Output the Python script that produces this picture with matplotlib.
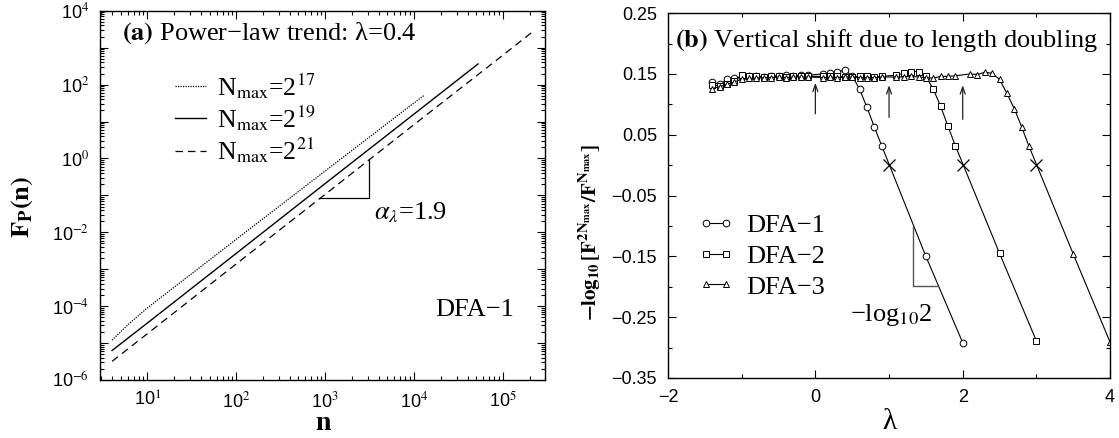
import numpy as np
import matplotlib
matplotlib.use('Agg')
import matplotlib.pyplot as plt
from matplotlib.ticker import FixedLocator, LogLocator, FuncFormatter, MultipleLocator, NullFormatter

plt.rcParams['mathtext.fontset'] = 'stix'
plt.rcParams['font.family'] = ['Liberation Serif', 'DejaVu Serif']

# ---- panel (a): F_P(n) for three series lengths ----
n_17 = [4, 6, 10, 100, 1000, 10000, 13107]
F_17 = [1.2e-5, 3.1e-5, 9.0e-5, 6.5e-3, 0.46, 32, 52]
n_19 = [4, 10, 100, 1000, 10000, 52429]
F_19 = [6.3e-6, 3.5e-5, 2.7e-3, 0.21, 16, 363]
n_21 = [4, 10, 100, 1000, 10000, 100000, 209715]
F_21 = [3.2e-6, 1.8e-5, 1.4e-3, 0.107, 8.3, 630, 2570]
tri_a_n = [850, 3100, 3100]
tri_a_F = [0.083, 0.083, 0.95]

# ---- panel (b): vertical shift vs lambda ----
lam1 = [-1.4, -1.3, -1.2, -1.1, -1.0, -0.9, -0.8, -0.7, -0.6, -0.5, -0.4, -0.3, -0.2, -0.1,
        0.1, 0.2, 0.3, 0.4, 0.5, 0.6, 0.7, 0.8, 0.9, 1.5, 2.0]
shift1 = [0.136, 0.133, 0.141, 0.143, 0.145, 0.146, 0.147, 0.145, 0.146, 0.147, 0.148, 0.147, 0.148, 0.148,
          0.150, 0.152, 0.154, 0.156, 0.147, 0.125, 0.095, 0.063, 0.032, -0.150, -0.292]
lam2 = [-1.4, -1.3, -1.2, -1.1, -1.0, -0.9, -0.8, -0.7, -0.6, -0.5, -0.4, -0.3, -0.2, -0.1,
        0.1, 0.2, 0.3, 0.4, 0.5, 0.6, 0.7, 0.8, 0.9,
        1.1, 1.2, 1.3, 1.4, 1.5, 1.6, 1.7, 1.8, 1.9, 2.5, 3.0]
shift2 = [0.132, 0.130, 0.134, 0.139, 0.148, 0.147, 0.146, 0.145, 0.147, 0.146, 0.145, 0.146, 0.146, 0.146,
          0.146, 0.146, 0.146, 0.145, 0.145, 0.146, 0.146, 0.145, 0.146,
          0.148, 0.151, 0.154, 0.154, 0.146, 0.125, 0.097, 0.064, 0.032, -0.145, -0.289]
lam3 = [-1.4, -1.3, -1.2, -1.1, -1.0, -0.9, -0.8, -0.7, -0.6, -0.5, -0.4, -0.3, -0.2, -0.1,
        0.1, 0.2, 0.3, 0.4, 0.5, 0.6, 0.7, 0.8, 0.9,
        1.1, 1.2, 1.3, 1.4, 1.5, 1.6, 1.7, 1.8, 1.9,
        2.1, 2.2, 2.3, 2.4, 2.5, 2.6, 2.7, 2.8, 2.9, 3.5, 4.0]
shift3 = [0.126, 0.129, 0.133, 0.137, 0.141, 0.143, 0.143, 0.144, 0.144, 0.145, 0.144, 0.145, 0.145, 0.145,
          0.144, 0.145, 0.144, 0.145, 0.145, 0.144, 0.144, 0.144, 0.145,
          0.145, 0.145, 0.146, 0.145, 0.144, 0.143, 0.146, 0.146, 0.147,
          0.150, 0.149, 0.153, 0.151, 0.141, 0.118, 0.093, 0.063, 0.031, -0.146, -0.291]
cross_lam = [1.0, 2.0, 3.0]
cross_shift = [0.0, 0.0, 0.0]
arrow_lam = [0.0, 1.0, 2.0]
arrow_from = [0.080, 0.074, 0.071]
arrow_to = [0.140, 0.136, 0.136]
tri_b_lam = [1.33, 1.33, 1.66]
tri_b_val = [-0.100, -0.199, -0.199]
yticks_b = [-0.35, -0.25, -0.15, -0.05, 0.05, 0.15, 0.25]

fig = plt.figure(figsize=(11.19, 4.38), dpi=100)
ax1 = fig.add_axes([0.0894, 0.1324, 0.398, 0.843])
ax2 = fig.add_axes([0.597, 0.137, 0.395, 0.833])

tickfont = 'Liberation Sans'
big = 19

# panel (a)
ax1.loglog(n_17, F_17, color='black', lw=0.9, ls=(0, (1, 1)), label=r'N$_{\rm max}$=2$^{17}$')
ax1.loglog(n_19, F_19, color='black', lw=1.0, ls='-', label=r'N$_{\rm max}$=2$^{19}$')
ax1.loglog(n_21, F_21, color='black', lw=0.9, ls=(0, (6, 4)), label=r'N$_{\rm max}$=2$^{21}$')
ax1.plot(tri_a_n, tri_a_F, color='black', lw=0.9)
ax1.set_xlim(2.93, 3.0e5)
ax1.set_ylim(1e-6, 1e4)
ax1.xaxis.set_major_locator(LogLocator(base=10, numticks=20))
ax1.xaxis.set_minor_locator(LogLocator(base=10, subs=np.arange(2, 10), numticks=20))
ax1.xaxis.set_minor_formatter(NullFormatter())
ax1.yaxis.set_major_locator(FixedLocator([10.0 ** k for k in range(-6, 5)]))
ax1.yaxis.set_minor_locator(LogLocator(base=10, subs=np.arange(2, 10), numticks=20))
ax1.yaxis.set_minor_formatter(NullFormatter())


def even_exp(v, pos):
    k = int(round(np.log10(v)))
    if k % 2:
        return ''
    return r'10$^{%d}$' % k


def all_exp(v, pos):
    k = int(round(np.log10(v)))
    return r'10$^{%d}$' % k


ax1.yaxis.set_major_formatter(FuncFormatter(even_exp))
ax1.xaxis.set_major_formatter(FuncFormatter(all_exp))
ax1.set_xlabel('n', fontsize=20, fontweight='bold', labelpad=0)
ax1.set_ylabel(r'$\mathbf{F_P(n)}$', fontsize=19)
ax1.yaxis.set_label_coords(-0.145, 0.47)
ax1.text(0.05, 0.94, r'$\mathbf{(a)}$ Power−law trend: λ=0.4', transform=ax1.transAxes,
         fontsize=big, va='center', ha='left')
ax1.text(3500, 10 ** -1.47, r'$\alpha_\lambda$=1.9', fontsize=big, va='center', ha='left')
ax1.text(0.93, 0.19, 'DFA−1', transform=ax1.transAxes, fontsize=big, va='center', ha='right')
ax1.legend(loc='upper left', bbox_to_anchor=(0.145, 0.865), frameon=False, fontsize=18.5,
           handlelength=1.2, handletextpad=0.45, labelspacing=0.1, borderaxespad=0)

# panel (b)
mk = dict(color='black', lw=0.8, mfc='white', mec='black', mew=0.7)
ax2.plot(lam1, shift1, marker='o', ms=4.8, label='DFA−1', **mk)
ax2.plot(lam2, shift2, marker='s', ms=4.0, label='DFA−2', **mk)
ax2.plot(lam3, shift3, marker='^', ms=4.6, label='DFA−3', **mk)
ax2.plot(cross_lam, cross_shift, ls='none', marker='x', ms=8, mec='black', mew=0.9)
for xa, y0, y1 in zip(arrow_lam, arrow_from, arrow_to):
    ax2.annotate('', xy=(xa, y1), xytext=(xa, y0),
                 arrowprops=dict(arrowstyle='->,head_length=0.5,head_width=0.18', color='#222222', lw=0.9))
ax2.plot(tri_b_lam, tri_b_val, color='#555555', lw=1.0)
ax2.text(1.03, -0.246, r'−log$_{10}$2', fontsize=big, va='center', ha='center')
ax2.set_xlim(-2, 4)
ax2.set_ylim(-0.35, 0.25)
ax2.xaxis.set_major_locator(MultipleLocator(2))
ax2.xaxis.set_minor_locator(MultipleLocator(1))
ax2.yaxis.set_major_locator(FixedLocator(yticks_b))
ax2.yaxis.set_minor_locator(FixedLocator([-0.3, -0.2, -0.1, 0.0, 0.1, 0.2]))
ax2.xaxis.set_major_formatter(FuncFormatter(lambda v, p: ('%d' % round(v)).replace('-', '−')))
ax2.yaxis.set_major_formatter(FuncFormatter(lambda v, p: ('%.2f' % v).replace('-', '−')))
ax2.set_xlabel('λ', fontsize=21, labelpad=2)
ax2.set_ylabel(r'$\mathbf{-log_{10}\,[F^{2N_{max}}/F^{N_{max}}]}$', fontsize=15)
ax2.yaxis.set_label_coords(-0.148, 0.40)
ax2.text(0.016, 0.926, r'$\mathbf{(b)}$ Vertical shift due to length doubling', transform=ax2.transAxes,
         fontsize=big, va='center', ha='left')
ax2.legend(loc='upper left', bbox_to_anchor=(0.045, 0.48), frameon=False, fontsize=big, numpoints=2,
           handlelength=1.35, handletextpad=0.45, labelspacing=0.28, borderaxespad=0)

for ax in (ax1, ax2):
    ax.tick_params(which='both', direction='in', top=True, right=True, width=0.8)
    ax.tick_params(which='major', length=6, labelsize=13, labelfontfamily=tickfont, pad=8)
    ax.tick_params(which='minor', length=3)
    for s in ax.spines.values():
        s.set_linewidth(1.0)

fig.savefig('out.png', dpi=100)
